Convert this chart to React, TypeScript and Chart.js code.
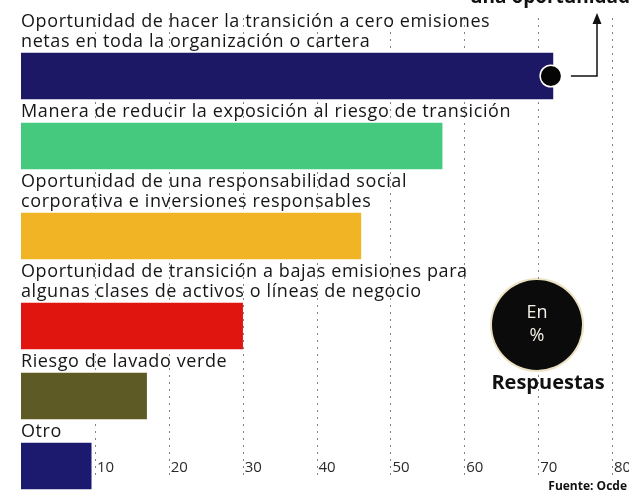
import React, { useEffect, useRef } from 'react';
import { Chart, registerables } from 'chart.js';

Chart.register(...registerables);

// ---- data ----
const categories: string[][] = [
  ['Oportunidad de hacer la transición a cero emisiones', 'netas en toda la organización o cartera'],
  ['Manera de reducir la exposición al riesgo de transición'],
  ['Oportunidad de una responsabilidad social', 'corporativa e inversiones responsables'],
  ['Oportunidad de transición a bajas emisiones para', 'algunas clases de activos o líneas de negocio'],
  ['Riesgo de lavado verde'],
  ['Otro'],
];
const values: number[] = [72, 57, 46, 30, 17, 9.5];
const barColors: string[] = ['#1d1866', '#44c97e', '#f1b424', '#e0150f', '#5e5a25', '#1c1a6e'];
const axisMin = 0;
const axisMax = 80;
const axisStep = 10;
const highlightText = 'una oportunidad';
const badgeLines: string[] = ['En', '%'];
const badgeCaption = 'Respuestas';
const sourceText = 'Fuente: Ocde';

// ---- layout (pixels) ----
const W = 629;
const H = 492;
const LINE_H = 20;
const LABEL_PAD = 4;
const BAR_H = 46;
const TOP = 9;

function barCenters(): number[] {
  let cursor = TOP;
  return categories.map((lines) => {
    const top = cursor + lines.length * LINE_H + LABEL_PAD;
    cursor = top + BAR_H;
    return top + BAR_H / 2;
  });
}

const FONT = '"Open Sans", "Noto Sans", sans-serif';

const decorPlugin = {
  id: 'decor',
  beforeDatasetsDraw(chart: any) {
    const { ctx } = chart;
    const xs = chart.scales.x;
    ctx.save();
    ctx.strokeStyle = 'rgba(90,90,90,0.75)';
    ctx.lineWidth = 1;
    ctx.setLineDash([2, 5]);
    xs.ticks.forEach((t: any) => {
      if (t.value === axisMin) return;
      const x = Math.round(xs.getPixelForValue(t.value)) + 0.5;
      ctx.beginPath();
      ctx.moveTo(x, 18);
      ctx.lineTo(x, 476);
      ctx.stroke();
    });
    ctx.restore();
  },
  afterDatasetsDraw(chart: any) {
    const { ctx, chartArea } = chart;
    const xs = chart.scales.x;
    const meta = chart.getDatasetMeta(0);
    ctx.save();
    // category labels above bars
    ctx.fillStyle = '#161616';
    ctx.font = `18px ${FONT}`;
    (ctx as any).letterSpacing = '0.6px';
    ctx.textAlign = 'left';
    ctx.textBaseline = 'alphabetic';
    meta.data.forEach((el: any, i: number) => {
      const { y, height } = el.getProps(['y', 'height'], true);
      const top = y - height / 2;
      const lines = categories[i];
      lines.forEach((ln, j) => {
        const base = top - 6 - (lines.length - 1 - j) * LINE_H;
        ctx.fillText(ln, chartArea.left, base);
      });
    });
    (ctx as any).letterSpacing = '0px';

    // tick labels
    ctx.font = `15px ${FONT}`;
    ctx.fillStyle = '#2a2a2a';
    xs.ticks.forEach((t: any) => {
      if (t.value === axisMin) return;
      const x = xs.getPixelForValue(t.value);
      ctx.fillText(String(t.value), x + 2, 472);
    });

    // highlight dot and arrow on first bar
    const first = meta.data[0].getProps(['x', 'y'], true);
    const cx = first.x - 2;
    const cy = first.y;
    ctx.fillStyle = '#ffffff';
    ctx.beginPath();
    ctx.arc(cx, cy, 11.5, 0, Math.PI * 2);
    ctx.fill();
    ctx.fillStyle = '#050505';
    ctx.beginPath();
    ctx.arc(cx, cy, 10, 0, Math.PI * 2);
    ctx.fill();

    ctx.strokeStyle = '#111';
    ctx.lineWidth = 1.5;
    ctx.beginPath();
    ctx.moveTo(cx + 20, cy);
    ctx.lineTo(597, cy);
    ctx.lineTo(597, 22);
    ctx.stroke();
    ctx.fillStyle = '#111';
    ctx.beginPath();
    ctx.moveTo(597, 13);
    ctx.lineTo(592.5, 24);
    ctx.lineTo(601.5, 24);
    ctx.closePath();
    ctx.fill();

    ctx.font = `bold 19px ${FONT}`;
    ctx.fillStyle = '#111';
    ctx.fillText(highlightText, 470, 3);

    // badge
    const bx = 537;
    const by = 325;
    ctx.fillStyle = 'rgba(200,170,80,0.35)';
    ctx.beginPath();
    ctx.arc(bx, by, 47, 0, Math.PI * 2);
    ctx.fill();
    ctx.fillStyle = '#0b0b0b';
    ctx.beginPath();
    ctx.arc(bx, by, 45, 0, Math.PI * 2);
    ctx.fill();
    ctx.fillStyle = '#f4f0e6';
    ctx.textAlign = 'center';
    ctx.textBaseline = 'middle';
    ctx.font = `18px ${FONT}`;
    ctx.fillText(badgeLines[0], bx, by - 12);
    ctx.fillText(badgeLines[1], bx, by + 11);

    ctx.textBaseline = 'alphabetic';
    ctx.fillStyle = '#111';
    ctx.font = `bold 20px ${FONT}`;
    ctx.fillText(badgeCaption, bx + 11, 389);

    ctx.textAlign = 'right';
    ctx.font = `bold 12px ${FONT}`;
    ctx.fillText(sourceText, 627, 490);
    ctx.restore();
  },
};

export default function App() {
  const ref = useRef<HTMLCanvasElement>(null);
  useEffect(() => {
    if (!ref.current) return;
    const centers = barCenters();
    const chart = new Chart(ref.current, {
      type: 'bar',
      data: {
        datasets: [
          {
            data: values.map((v, i) => ({ x: v, y: centers[i] })),
            backgroundColor: barColors,
            borderWidth: 0,
            barThickness: BAR_H,
          },
        ],
      },
      options: {
        indexAxis: 'y',
        animation: false,
        responsive: false,
        maintainAspectRatio: false,
        layout: { padding: { left: 21, right: 17, top: 0, bottom: 0 } },
        plugins: { legend: { display: false }, tooltip: { enabled: false } },
        scales: {
          x: {
            type: 'linear',
            min: axisMin,
            max: axisMax,
            display: false,
            offset: false,
            ticks: { stepSize: axisStep },
          },
          y: {
            type: 'linear',
            reverse: true,
            min: 0,
            max: H,
            offset: false,
            display: false,
          },
        },
      },
      plugins: [decorPlugin],
    });
    return () => chart.destroy();
  }, []);
  return (
    <div style={{ position: 'fixed', left: 0, top: 0, width: W, height: H, background: '#fff' }}>
      <canvas ref={ref} width={W} height={H} style={{ display: 'block', width: W, height: H }} />
    </div>
  );
}
